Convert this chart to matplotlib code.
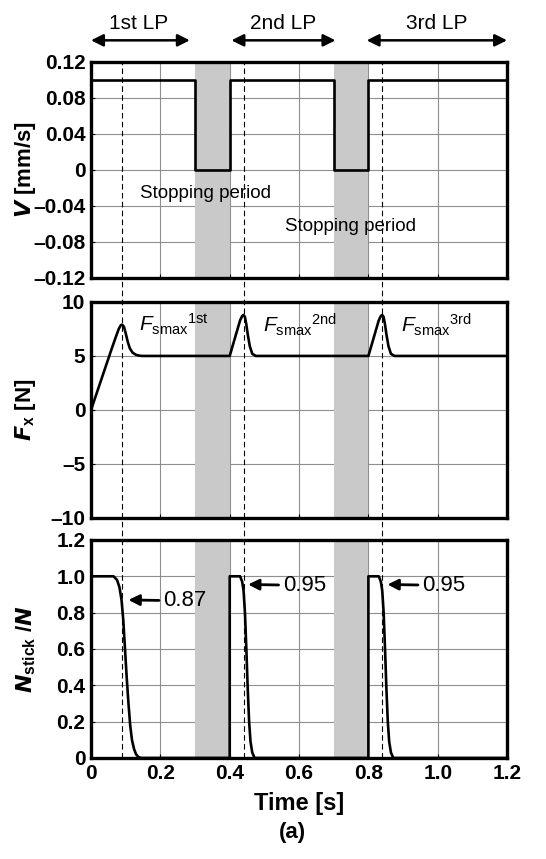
import numpy as np
import matplotlib.pyplot as plt
from matplotlib.lines import Line2D
from matplotlib.transforms import blended_transform_factory

plt.rcParams['font.family'] = ['Liberation Sans', 'DejaVu Sans']
plt.rcParams['mathtext.fontset'] = 'custom'
plt.rcParams['mathtext.rm'] = 'Liberation Sans'
plt.rcParams['mathtext.it'] = 'Liberation Sans:italic'
plt.rcParams['mathtext.bf'] = 'Liberation Sans:bold'

# velocity (step)
t_v = [0, 0.3, 0.3, 0.4, 0.4, 0.7, 0.7, 0.8, 0.8, 1.2]
v = [0.1, 0.1, 0, 0, 0.1, 0.1, 0, 0, 0.1, 0.1]

# friction force
t_f = [0, 0.02, 0.04, 0.06, 0.072, 0.08, 0.086, 0.09, 0.095, 0.1, 0.106, 0.112,
       0.12, 0.13, 0.14, 0.15, 0.3, 0.4,
       0.41, 0.42, 0.43, 0.436, 0.44, 0.444, 0.448, 0.452, 0.458, 0.465, 0.475,
       0.7, 0.8,
       0.81, 0.82, 0.83, 0.836, 0.84, 0.844, 0.848, 0.852, 0.858, 0.865, 0.875, 1.2]
f_x = [0, 1.9, 3.8, 5.7, 6.8, 7.5, 7.85, 7.9, 7.7, 7.1, 6.3, 5.7,
       5.3, 5.1, 5.02, 5.0, 5.0, 5.0,
       6.1, 7.2, 8.3, 8.7, 8.8, 8.6, 7.9, 7.0, 5.9, 5.2, 5.0,
       5.0, 5.0,
       6.1, 7.2, 8.3, 8.7, 8.8, 8.6, 7.9, 7.0, 5.9, 5.2, 5.0, 5.0]

# stick ratio
t_n = [0, 0.065, 0.075, 0.082, 0.088, 0.093, 0.098, 0.103, 0.108, 0.113, 0.118,
       0.124, 0.13, 0.137, 0.145, 0.4,
       0.4, 0.43, 0.436, 0.44, 0.444, 0.448, 0.452, 0.456, 0.46, 0.465, 0.472, 0.8,
       0.8, 0.83, 0.836, 0.84, 0.844, 0.848, 0.852, 0.856, 0.86, 0.865, 0.872, 1.2]
n_stick = [1.0, 1.0, 0.98, 0.94, 0.87, 0.76, 0.6, 0.44, 0.3, 0.18, 0.1,
           0.05, 0.02, 0.005, 0, 0,
           1.0, 1.0, 0.97, 0.92, 0.8, 0.6, 0.38, 0.2, 0.09, 0.03, 0, 0,
           1.0, 1.0, 0.97, 0.92, 0.8, 0.6, 0.38, 0.2, 0.09, 0.03, 0, 0]

stops = [(0.3, 0.4), (0.7, 0.8)]
peaks = [0.088, 0.44, 0.84]
x_ticks = [0, 0.2, 0.4, 0.6, 0.8, 1.0, 1.2]
x_labels = ['0', '0.2', '0.4', '0.6', '0.8', '1.0', '1.2']

fig = plt.figure(figsize=(5.46, 8.59), dpi=100)
ax1 = fig.add_axes([0.1667, 0.6764, 0.762, 0.2515])
ax2 = fig.add_axes([0.1667, 0.397, 0.762, 0.2515])
ax3 = fig.add_axes([0.1667, 0.1176, 0.762, 0.2538])

for ax in (ax1, ax2, ax3):
    ax.set_xlim(0, 1.2)
    ax.set_xticks(x_ticks)
    ax.set_axisbelow(True)
    ax.grid(True, color='#8f8f8f', lw=0.8)
    for a, b in stops:
        ax.axvspan(a, b, color='#c9c9c9', lw=0, zorder=1)
    for s in ax.spines.values():
        s.set_linewidth(2.4)
        s.set_zorder(5)
    ax.tick_params(direction='in', length=3, width=0.8, labelsize=15, pad=4)

# top: velocity
ax1.plot(t_v, v, color='black', lw=1.9, zorder=3)
ax1.set_ylim(-0.12, 0.12)
ax1.set_yticks([-0.12, -0.08, -0.04, 0, 0.04, 0.08, 0.12])
ax1.set_yticklabels(['\u20130.12', '\u20130.08', '\u20130.04', '0', '0.04', '0.08', '0.12'],
                    fontweight='bold')
ax1.set_xticklabels([])
ax1.set_ylabel(r'$\mathbfit{V}$ [mm/s]', fontsize=16, fontweight='bold')
ax1.text(0.33, -0.026, 'Stopping period', fontsize=13.5, ha='center', va='center')
ax1.text(0.747, -0.063, 'Stopping period', fontsize=13.5, ha='center', va='center')

# LP arrows above the top panel
lp_spans = [(0.0, 0.285), (0.405, 0.705), (0.795, 1.2)]
lp_names = ['1st LP', '2nd LP', '3rd LP']
lp_text_x = [0.136, 0.555, 0.997]
top_tr = blended_transform_factory(ax1.transData, ax1.transAxes)
for (a, b), name, tx in zip(lp_spans, lp_names, lp_text_x):
    ax1.annotate('', xy=(a, 1.1), xytext=(b, 1.1), xycoords=('data', 'axes fraction'),
                 arrowprops=dict(arrowstyle='<|-|>', color='black', lw=1.8,
                                 mutation_scale=18, shrinkA=0, shrinkB=0))
    ax1.text(tx, 1.18, name, transform=top_tr, fontsize=15, ha='center', va='center')

# middle: force
ax2.plot(t_f, f_x, color='black', lw=1.9, zorder=3)
ax2.set_ylim(-10, 10)
ax2.set_yticks([-10, -5, 0, 5, 10])
ax2.set_yticklabels(['\u201310', '\u20135', '0', '5', '10'], fontweight='bold')
ax2.set_xticklabels([])
ax2.set_ylabel(r'$\mathbfit{F}_{\mathbf{x}}$ [N]', fontsize=16, fontweight='bold')
fs_labels = [(0.137, '1st'), (0.497, '2nd'), (0.895, '3rd')]
for fx, lab in fs_labels:
    ax2.text(fx, 7.9, r'$\mathit{F}_{\rm smax}{}^{\rm ' + lab + '}$', fontsize=15, va='center')

# bottom: stick ratio
ax3.plot(t_n, n_stick, color='black', lw=1.9, zorder=3)
ax3.set_ylim(0, 1.2)
ax3.set_yticks([0, 0.2, 0.4, 0.6, 0.8, 1.0, 1.2])
ax3.set_yticklabels(['0', '0.2', '0.4', '0.6', '0.8', '1.0', '1.2'], fontweight='bold')
ax3.set_xticklabels(x_labels, fontweight='bold')
ax3.set_ylabel(r'$\mathbfit{N}_{\mathbf{stick}}$ /$\mathbfit{N}$', fontsize=16,
               fontweight='bold')
ax3.set_xlabel('Time [s]', fontsize=17, fontweight='bold', labelpad=7)

for ax in (ax1, ax2, ax3):
    ax.yaxis.set_label_coords(-0.127, 0.5)

arrow_pts = [(0.108, 0.87, '0.87'), (0.453, 0.955, '0.95'), (0.855, 0.955, '0.95')]
for px, py, lab in arrow_pts:
    ax3.annotate(lab, xy=(px, py), xytext=(px + 0.1, py - 0.005),
                 fontsize=16, va='center', ha='left', zorder=6,
                 arrowprops=dict(arrowstyle='-|>', color='black', lw=2.0,
                                 mutation_scale=16, shrinkA=1, shrinkB=0))

fig.text(0.535, 0.031, '(a)', fontsize=16, fontweight='bold', ha='center', va='center')

# dashed lines through all panels at the force peaks
trans = blended_transform_factory(ax3.transData, fig.transFigure)
for p in peaks:
    fig.add_artist(Line2D([p, p], [0.1176, 0.928], transform=trans, color='black',
                          lw=0.8, ls=(0, (5, 3)), zorder=4))

fig.savefig('out.png', dpi=100)
